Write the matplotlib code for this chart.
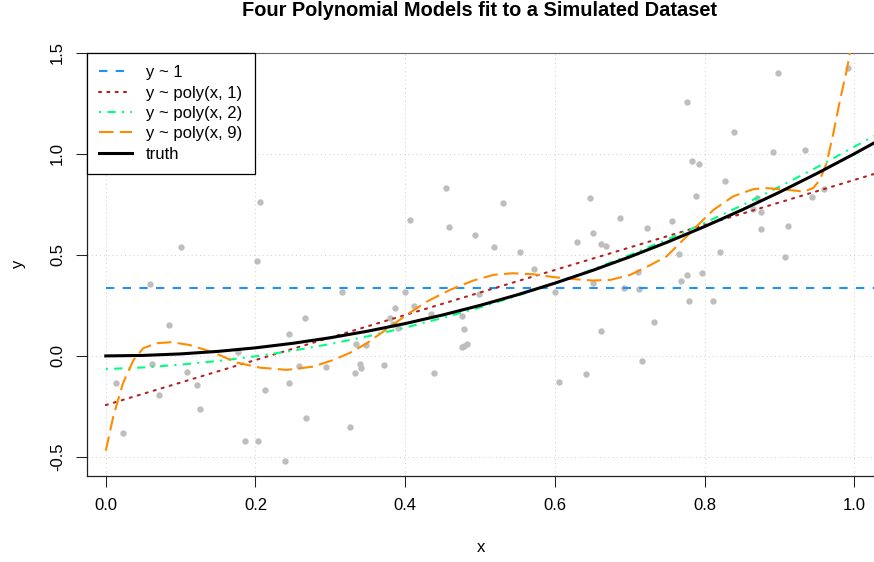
import matplotlib
import matplotlib.pyplot as plt

matplotlib.use("Agg")

plt.rcParams["font.family"] = ["Liberation Sans", "DejaVu Sans"]

# simulated data points
x_pts = [0.206, 0.100, 0.202, 0.455, 0.407, 0.530, 0.459, 0.493, 0.519, 0.553,
         0.572, 0.647, 0.651, 0.629, 0.661, 0.668, 0.898, 0.992, 0.777, 0.839,
         0.892, 0.934, 0.783, 0.793, 0.827, 0.789, 0.687, 0.723, 0.756, 0.870,
         0.864, 0.875, 0.876, 0.912, 0.944, 0.960, 0.766, 0.821, 0.908, 0.059,
         0.084, 0.062, 0.014, 0.023, 0.071, 0.108, 0.122, 0.126, 0.177, 0.186,
         0.203, 0.213, 0.240, 0.245, 0.245, 0.258, 0.266, 0.267, 0.294, 0.316,
         0.326, 0.333, 0.334, 0.339, 0.341, 0.347, 0.372, 0.380, 0.386, 0.384,
         0.390, 0.400, 0.412, 0.435, 0.438, 0.476, 0.479, 0.478, 0.482, 0.476,
         0.498, 0.600, 0.605, 0.642, 0.651, 0.661, 0.711, 0.692, 0.712, 0.732,
         0.717, 0.769, 0.777, 0.797, 0.779, 0.811]
y_pts = [0.762, 0.540, 0.470, 0.833, 0.670, 0.757, 0.640, 0.597, 0.541, 0.515,
         0.432, 0.782, 0.607, 0.566, 0.554, 0.546, 1.402, 1.424, 1.257, 1.109,
         1.010, 1.018, 0.962, 0.950, 0.863, 0.792, 0.680, 0.635, 0.665, 0.779,
         0.726, 0.713, 0.629, 0.644, 0.784, 0.827, 0.505, 0.513, 0.487, 0.356,
         0.155, -0.038, -0.134, -0.383, -0.191, -0.079, -0.144, -0.264, 0.018, -0.422,
         -0.419, -0.168, -0.518, 0.107, -0.135, -0.051, 0.190, -0.305, -0.053, 0.315,
         -0.350, -0.086, 0.058, -0.038, -0.061, 0.056, -0.046, 0.190, 0.236, 0.158,
         0.137, 0.318, 0.249, 0.208, -0.083, 0.198, 0.132, 0.050, 0.061, 0.043,
         0.304, 0.318, -0.127, -0.088, 0.360, 0.124, 0.416, 0.338, 0.330, 0.168,
         -0.026, 0.370, 0.399, 0.411, 0.272, 0.272]

# fitted curves, sampled from the chart
x_const = [0.0, 1.03]
y_const = [0.335, 0.335]

x_lin = [0.0, 1.03]
y_lin = [-0.243, 0.904]

x_grid = [0.0, 0.05, 0.1, 0.15, 0.2, 0.25, 0.3, 0.35, 0.4, 0.45, 0.5, 0.55,
          0.6, 0.65, 0.7, 0.75, 0.8, 0.85, 0.9, 0.95, 1.0, 1.03]
y_quad = [-0.065, -0.057, -0.043, -0.025, -0.002, 0.026, 0.059, 0.097, 0.140, 0.188,
          0.240, 0.298, 0.360, 0.427, 0.499, 0.576, 0.658, 0.745, 0.837, 0.933,
          1.035, 1.095]
y_truth = [0.0, 0.0025, 0.01, 0.0225, 0.04, 0.0625, 0.09, 0.1225, 0.16, 0.2025,
           0.25, 0.3025, 0.36, 0.4225, 0.49, 0.5625, 0.64, 0.7225, 0.81, 0.9025,
           1.0, 1.061]

x_p9 = [0.0, 0.010, 0.023, 0.037, 0.050, 0.068, 0.088, 0.112, 0.144, 0.175,
        0.206, 0.242, 0.277, 0.304, 0.326, 0.349, 0.380, 0.402, 0.429, 0.460,
        0.491, 0.518, 0.544, 0.571, 0.598, 0.625, 0.651, 0.674, 0.700, 0.720,
        0.749, 0.776, 0.789, 0.812, 0.838, 0.865, 0.883, 0.910, 0.932, 0.945,
        0.954, 0.963, 0.972, 0.981, 0.990, 1.0]
y_p9 = [-0.469, -0.300, -0.135, -0.020, 0.038, 0.063, 0.068, 0.054, 0.017, -0.033,
        -0.058, -0.069, -0.053, -0.020, 0.015, 0.063, 0.145, 0.203, 0.269, 0.327,
        0.373, 0.401, 0.409, 0.404, 0.390, 0.380, 0.373, 0.376, 0.400, 0.435,
        0.492, 0.591, 0.640, 0.723, 0.789, 0.825, 0.830, 0.822, 0.813, 0.830,
        0.871, 0.954, 1.102, 1.267, 1.416, 1.620]

x_ticks = [0.0, 0.2, 0.4, 0.6, 0.8, 1.0]
x_labels = ["0.0", "0.2", "0.4", "0.6", "0.8", "1.0"]
y_ticks = [-0.5, 0.0, 0.5, 1.0, 1.5]
y_labels = ["-0.5", "0.0", "0.5", "1.0", "1.5"]

W, H = 874, 562
fig = plt.figure(figsize=(W / 100, H / 100), dpi=100)
left, right, top, bottom = 86.7, 874, 52.7, 476
ax = fig.add_axes([left / W, 1 - bottom / H, (right - left) / W, (bottom - top) / H])
ax.set_xlim(-0.0255, 1.0263)
ax.set_ylim(-0.594, 1.5)

# grid (R grid(): lightgray dotted)
for xv in x_ticks:
    ax.axvline(xv, color="#D3D3D3", lw=0.75, ls=(0, (1, 3)), zorder=0)
for yv in y_ticks:
    ax.axhline(yv, color="#D3D3D3", lw=0.75, ls=(0, (1, 3)), zorder=0)

ax.plot(x_pts, y_pts, "o", ms=4.6, color="#BEBEBE", mec="none", zorder=2)

ax.plot(x_const, y_const, color="#1E90FF", lw=1.5, ls=(0, (4, 4)), label="y ~ 1", zorder=3)
ax.plot(x_lin, y_lin, color="#B22222", lw=1.5, ls=(0, (1, 3)), dash_capstyle="round",
        label="y ~ poly(x, 1)", zorder=3)
ax.plot(x_grid, y_quad, color="#00FF7F", lw=1.5, ls=(0, (1, 3, 4, 3)),
        label="y ~ poly(x, 2)", zorder=3)
ax.plot(x_p9, y_p9, color="#FF8C00", lw=1.5, ls=(0, (7, 3)), label="y ~ poly(x, 9)", zorder=3)
ax.plot(x_grid, y_truth, color="black", lw=2.2, label="truth", zorder=4)

ax.spines["right"].set_visible(False)
ax.spines["top"].set_color("#666666")
ax.spines["top"].set_linestyle((0, (2, 1)))
ax.spines["top"].set_linewidth(0.8)
for s in ("left", "bottom"):
    ax.spines[s].set_linewidth(0.9)
    ax.spines[s].set_color("#222222")

ax.set_xticks(x_ticks)
ax.set_xticklabels(x_labels, fontsize=12)
ax.set_yticks(y_ticks)
ax.set_yticklabels(y_labels, fontsize=12, rotation=90, va="center")
ax.tick_params(axis="both", length=7.7, width=0.75, color="#222222")
ax.tick_params(axis="x", pad=8)
ax.tick_params(axis="y", pad=8)

leg = ax.legend(loc="upper left", bbox_to_anchor=(0, 1), borderaxespad=0,
                fontsize=12, frameon=True, fancybox=False, framealpha=1,
                edgecolor="black", handlelength=1.95, handletextpad=0.85,
                borderpad=0.75, labelspacing=0.32)
leg.get_frame().set_linewidth(0.9)
leg.set_zorder(10)

fig.text(480 / W, 1 - 10 / H, "Four Polynomial Models fit to a Simulated Dataset",
         ha="center", va="center", fontsize=14.4, fontweight="bold")
fig.text(481 / W, 1 - 548 / H, "x", ha="center", va="center", fontsize=12)
fig.text(18 / W, 1 - 264 / H, "y", ha="center", va="center", fontsize=12, rotation=90)

fig.savefig("out.png", dpi=100)
